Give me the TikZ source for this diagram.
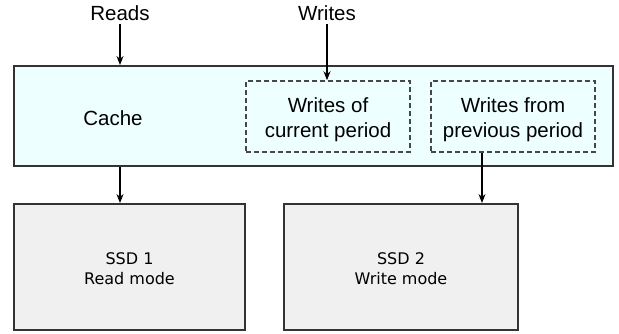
\documentclass[tikz,border=0pt]{standalone}
\usepackage{fontspec}
\setmainfont{Liberation Sans}
\newfontfamily\ssdfont{DejaVu Sans}
\usetikzlibrary{arrows.meta,calc}
\definecolor{cachefill}{RGB}{238,255,255}
\definecolor{ssdfill}{RGB}{240,240,240}
\definecolor{edge}{RGB}{51,51,51}
\tikzset{
  bigbox/.style={draw=edge, line width=2pt, inner sep=0pt},
  dashbox/.style={draw=edge!90, line width=1.5pt, dash pattern=on 5pt off 3pt, inner sep=0pt, align=center, font=\fontsize{20.5pt}{25pt}\selectfont},
  lbl/.style={inner sep=0pt, font=\fontsize{20.5pt}{25pt}\selectfont},
  ssdbox/.style={bigbox, fill=ssdfill, align=center, font=\ssdfont\fontsize{16pt}{20pt}\selectfont},
  arr/.style={-{Stealth[length=9pt,width=7pt]}, line width=1.2pt, black}
}
\begin{document}
\begin{tikzpicture}[x=1pt,y=-1pt]
\useasboundingbox (0,0) rectangle (619,333);
\node[bigbox, fill=cachefill, minimum width=599pt, minimum height=100pt] (cache) at (313.5,116) {};
\node[lbl] (cachelbl) at (113,118.5) {Cache};
\node[dashbox, minimum width=164pt, minimum height=71pt] (cur) at (328,116.5) {\rule{0pt}{21.5pt}Writes of\\current period};
\node[dashbox, minimum width=164pt, minimum height=71pt] (prev) at (513,116.5) {\rule{0pt}{21.5pt}Writes from\\previous period};
\node[lbl] (reads) at (120,13) {Reads};
\node[lbl] (writes) at (327,13) {Writes};
\node[ssdbox, minimum width=231pt, minimum height=126pt] (ssd1) at (129.5,267) {\rule{0pt}{16pt}SSD 1\\Read mode};
\node[ssdbox, minimum width=234pt, minimum height=126pt] (ssd2) at (401,267) {\rule{0pt}{16pt}SSD 2\\Write mode};
\coordinate (w2) at (482,0);
\draw[arr] ([yshift=-3pt]reads.south) -- (reads.south |- cache.north);
\draw[arr] ([yshift=-3pt]writes.south) -- (writes.south |- cur.north);
\draw[arr] (reads.south |- cache.south) -- (reads.south |- ssd1.north);
\draw[arr] (prev.south -| w2) -- (ssd2.north -| w2);
\end{tikzpicture}
\end{document}
